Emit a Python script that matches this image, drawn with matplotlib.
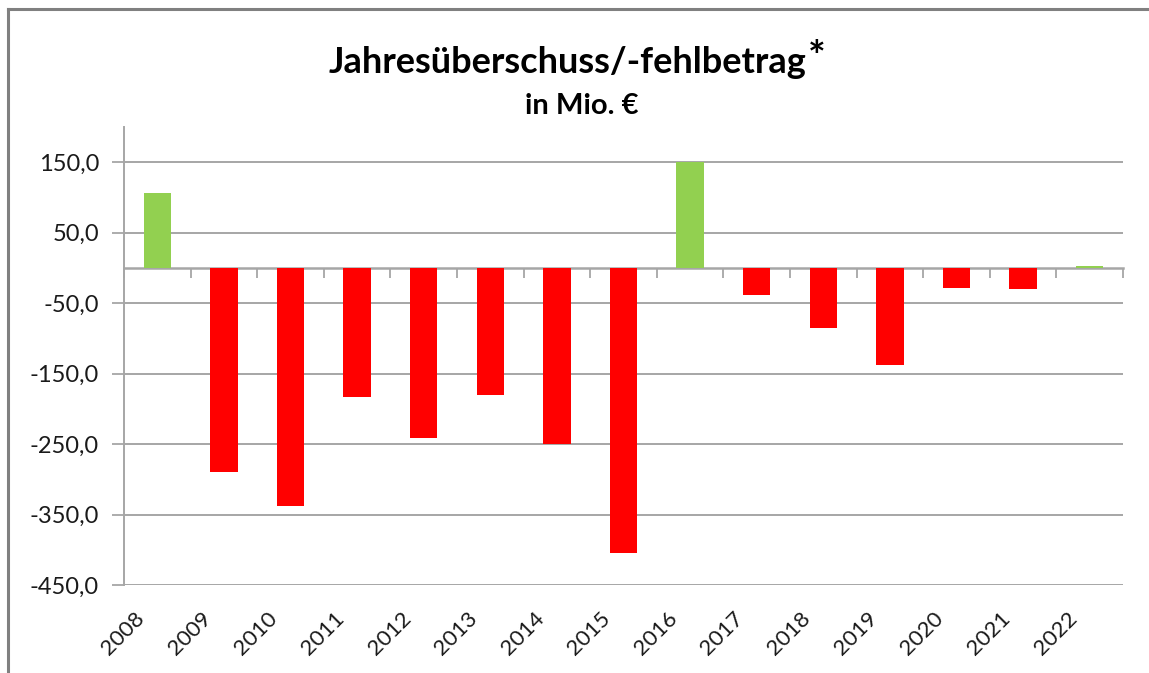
import matplotlib
matplotlib.use("Agg")
import matplotlib.pyplot as plt
from matplotlib.lines import Line2D
from matplotlib.transforms import ScaledTranslation
import numpy as np

# Jahresergebnis in Mio. Euro
years = ["2008", "2009", "2010", "2011", "2012", "2013", "2014", "2015",
         "2016", "2017", "2018", "2019", "2020", "2021", "2022"]
values = [107, -289, -338, -183, -241, -181, -250, -405,
          150, -38, -85, -138, -28, -30, 3]

green = "#92D050"
red = "#FF0000"
grid_col = "#A6A6A6"

plt.rcParams["font.family"] = ["Lato", "DejaVu Sans"]

fig = plt.figure(figsize=(11.49, 6.73), dpi=100)
ax = fig.add_axes([0.1079, 0.1308, 0.8695, 0.6805])

x = np.arange(len(years))
colors = [green if v >= 0 else red for v in values]
ax.bar(x, values, width=0.41, color=colors, zorder=3)

ax.set_xlim(-0.5, len(years) - 0.5)
ax.set_ylim(-450, 200)
yt = np.arange(-450, 151, 100)
ax.set_yticks(yt)
ax.set_yticklabels([f"{v:.1f}".replace(".", ",") for v in yt], fontsize=17,
                   color="#1a1a1a")
ax.yaxis.grid(True, color=grid_col, linewidth=1.4, zorder=0)
ax.tick_params(axis="y", length=9, width=1.3, color=grid_col, pad=9)

for s in ["top", "right", "bottom"]:
    ax.spines[s].set_visible(False)
ax.spines["left"].set_color(grid_col)
ax.spines["left"].set_linewidth(1.4)

ax.set_xticks(x)
ax.set_xticklabels(years, rotation=45, ha="right", va="center",
                   rotation_mode="anchor", fontsize=16, color="#1a1a1a")
ax.tick_params(axis="x", length=0, pad=22)
for lab in ax.get_xticklabels():
    lab.set_transform(lab.get_transform() + ScaledTranslation(-0.16, 0, fig.dpi_scale_trans))

# category axis at zero
sec = ax.secondary_xaxis(0, transform=ax.transData)
sec.set_xticks(np.arange(len(years) + 1) - 0.5)
sec.set_xticklabels([])
sec.tick_params(length=7, width=1.3, color=grid_col, direction="out")
sec.spines["bottom"].set_color(grid_col)
sec.spines["bottom"].set_linewidth(1.8)

# titles
title = fig.text(0.494, 0.907, "Jahresüberschuss/-fehlbetrag", ha="center", va="center",
                 fontsize=26, fontweight="bold")
fig.canvas.draw()
bb = title.get_window_extent().transformed(fig.transFigure.inverted())
fig.text(bb.x1 + 0.001, 0.912, "*", ha="left", va="center", fontsize=30,
         fontweight="bold")
fig.text(0.506, 0.843, "in Mio. €", ha="center", va="center",
         fontsize=21, fontweight="bold")

# chart frame (top and left edge)
fig.add_artist(Line2D([0.0066, 1.0], [0.9866, 0.9866], color="#808080", lw=2.2,
                      transform=fig.transFigure))
fig.add_artist(Line2D([0.0070, 0.0070], [0.0, 0.9866], color="#808080", lw=2.2,
                      transform=fig.transFigure))

fig.savefig("out.png", dpi=100)
